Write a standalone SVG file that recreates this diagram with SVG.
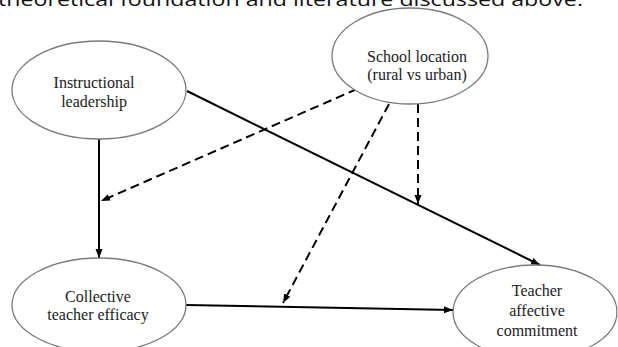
<svg xmlns="http://www.w3.org/2000/svg" width="618" height="347" viewBox="0 0 618 347">
  <style>
    .node ellipse { fill: #ffffff; stroke: #7a7a7a; stroke-width: 1.3; }
    .node text { font-family: 'Liberation Serif', 'Times New Roman', serif; font-size: 16px; fill: #222222; text-anchor: middle; }
    .solid { stroke: #000000; stroke-width: 2; fill: none; marker-end: url(#arrow); }
    .dashed { stroke: #000000; stroke-width: 2; fill: none; stroke-dasharray: 9 5; marker-end: url(#arrow); }
    .caption { font-family: 'Open Sans', 'Liberation Sans', sans-serif; font-size: 19px; fill: #111111; }
  </style>
  <defs>
    <marker id="arrow" markerUnits="userSpaceOnUse" markerWidth="10" markerHeight="8" refX="9" refY="3.5" orient="auto">
      <path d="M0,0 L9,3.5 L0,7 z" fill="#000000"/>
    </marker>
  </defs>
  <rect width="618" height="347" fill="#ffffff"/>
  <text class="caption" x="-2" y="6" textLength="585" lengthAdjust="spacingAndGlyphs">theoretical foundation and literature discussed above.</text>

  <g id="connectors">
    <line class="solid" x1="99" y1="139" x2="99" y2="258"/>
    <line class="solid" x1="187" y1="91" x2="540" y2="265"/>
    <line class="solid" x1="186" y1="305" x2="453" y2="310"/>
    <line class="dashed" x1="357" y1="89" x2="101" y2="201"/>
    <line class="dashed" x1="389" y1="104" x2="283" y2="303"/>
    <line class="dashed" x1="418" y1="104" x2="418" y2="204"/>
  </g>

  <g id="instructional-leadership" class="node" font-family="Liberation Serif, serif">
    <ellipse cx="99" cy="90" rx="87" ry="49"/>
    <text x="94" y="88" font-family="Liberation Serif, serif">Instructional</text>
    <text x="94" y="107" font-family="Liberation Serif, serif">leadership</text>
  </g>

  <g id="school-location" class="node" font-family="Liberation Serif, serif">
    <ellipse cx="410" cy="56" rx="78" ry="48"/>
    <text x="417" y="62" font-family="Liberation Serif, serif">School location</text>
    <text x="417" y="80" font-family="Liberation Serif, serif">(rural vs urban)</text>
  </g>

  <g id="collective-teacher-efficacy" class="node" font-family="Liberation Serif, serif">
    <ellipse cx="99" cy="305" rx="87" ry="47"/>
    <text x="98" y="302" font-family="Liberation Serif, serif">Collective</text>
    <text x="98" y="320" font-family="Liberation Serif, serif">teacher efficacy</text>
  </g>

  <g id="teacher-affective-commitment" class="node" font-family="Liberation Serif, serif">
    <ellipse cx="535" cy="312" rx="82" ry="47"/>
    <text x="537" y="296" font-family="Liberation Serif, serif">Teacher</text>
    <text x="537" y="316" font-family="Liberation Serif, serif">affective</text>
    <text x="537" y="336" font-family="Liberation Serif, serif">commitment</text>
  </g>
</svg>
